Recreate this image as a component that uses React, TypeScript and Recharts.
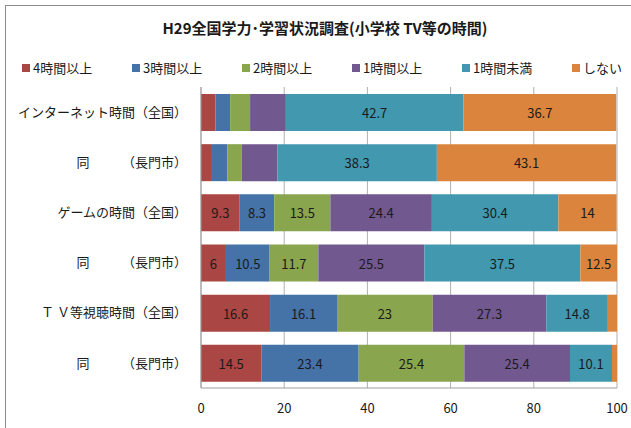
import { BarChart, Bar, XAxis, YAxis, CartesianGrid, LabelList } from 'recharts'

const categories = [
  'インターネット時間（全国）',
  '同　　　（長門市）',
  'ゲームの時間（全国）',
  '同　　　（長門市）',
  'Ｔ Ｖ等視聴時間（全国）',
  '同　　　（長門市）',
]

const h4 = [3.5, 2.4, 9.3, 6, 16.6, 14.5]
const h3 = [3.5, 3.9, 8.3, 10.5, 16.1, 23.4]
const h2 = [4.8, 3.5, 13.5, 11.7, 23, 25.4]
const h1 = [8.6, 8.6, 24.4, 25.5, 27.3, 25.4]
const under1 = [42.7, 38.3, 30.4, 37.5, 14.8, 10.1]
const none = [36.7, 43.1, 14, 12.5, 2.2, 1.2]

const xTicks = [0, 20, 40, 60, 80, 100]

const series = [
  { key: 'h4', name: '4時間以上', values: h4, color: '#AA4643', labelRows: [2, 3, 4, 5] },
  { key: 'h3', name: '3時間以上', values: h3, color: '#4572A7', labelRows: [2, 3, 4, 5] },
  { key: 'h2', name: '2時間以上', values: h2, color: '#89A54E', labelRows: [2, 3, 4, 5] },
  { key: 'h1', name: '1時間以上', values: h1, color: '#71588F', labelRows: [2, 3, 4, 5] },
  { key: 'under1', name: '1時間未満', values: under1, color: '#4198AF', labelRows: [0, 1, 2, 3, 4, 5] },
  { key: 'none', name: 'しない', values: none, color: '#DB843D', labelRows: [0, 1, 2, 3] },
]

const data = categories.map((name, i) => {
  const row: Record<string, string | number> = { name }
  series.forEach((s) => {
    row[s.key] = s.values[i]
  })
  return row
})

const FONT = '"Noto Sans CJK JP", "Noto Sans", sans-serif'
const PLOT_RIGHT = 617

function makeLabel(rows: number[]) {
  return (props: any) => {
    const { x, y, width, height, value, index } = props
    if (!rows.includes(index)) return null
    const visible = Math.min(width, PLOT_RIGHT - x)
    return (
      <text
        x={x + visible / 2}
        y={y + height / 2}
        textAnchor="middle"
        dominantBaseline="central"
        fontSize={13}
        fontFamily={FONT}
        fill="#1a1a1a"
      >
        {value}
      </text>
    )
  }
}

export default function App() {
  return (
    <div
      style={{
        position: 'fixed',
        left: 0,
        top: 0,
        width: 631,
        height: 428,
        overflow: 'hidden',
        background: '#fff',
        fontFamily: FONT,
      }}
    >
      <div
        style={{
          position: 'absolute',
          left: 5,
          top: 5,
          width: 700,
          height: 500,
          border: '1px solid #8c8c8c',
        }}
      />
      <div
        style={{
          position: 'absolute',
          left: 0,
          width: 650,
          top: 17,
          textAlign: 'center',
          fontSize: 15,
          fontWeight: 700,
          color: '#1a1a1a',
        }}
      >
        H29全国学力･学習状況調査(小学校 TV等の時間)
      </div>
      <div
        style={{
          position: 'absolute',
          left: 22,
          top: 58,
          display: 'flex',
          fontSize: 13,
          color: '#1a1a1a',
        }}
      >
        {series.map((s) => (
          <div key={s.key} style={{ width: 110, display: 'flex', alignItems: 'center' }}>
            <span
              style={{
                display: 'inline-block',
                width: 8,
                height: 8,
                background: s.color,
                marginRight: 3,
              }}
            />
            {s.name}
          </div>
        ))}
      </div>
      <div style={{ position: 'absolute', left: 0, top: 0 }}>
        <BarChart
          width={631}
          height={428}
          data={data}
          layout="vertical"
          margin={{ top: 87, right: 14, left: 0, bottom: 0 }}
          barSize={37}
        >
          <CartesianGrid horizontal={false} stroke="#b0b0b0" />
          <XAxis
            type="number"
            domain={[0, 100]}
            ticks={xTicks}
            allowDataOverflow
            tickLine={false}
            axisLine={{ stroke: '#a0a0a0' }}
            tickMargin={10}
            height={40}
            interval={0}
            tick={{ fontSize: 13, fill: '#1a1a1a', fontFamily: FONT }}
          />
          <YAxis
            type="category"
            dataKey="name"
            width={201}
            tickLine={false}
            axisLine={{ stroke: '#a0a0a0' }}
            tickMargin={8}
            interval={0}
            tick={{ fontSize: 13, fill: '#1a1a1a', fontFamily: FONT }}
          />
          {series.map((s) => (
            <Bar
              key={s.key}
              dataKey={s.key}
              name={s.name}
              stackId="a"
              fill={s.color}
              isAnimationActive={false}
            >
              <LabelList dataKey={s.key} content={makeLabel(s.labelRows)} />
            </Bar>
          ))}
        </BarChart>
      </div>
    </div>
  )
}
